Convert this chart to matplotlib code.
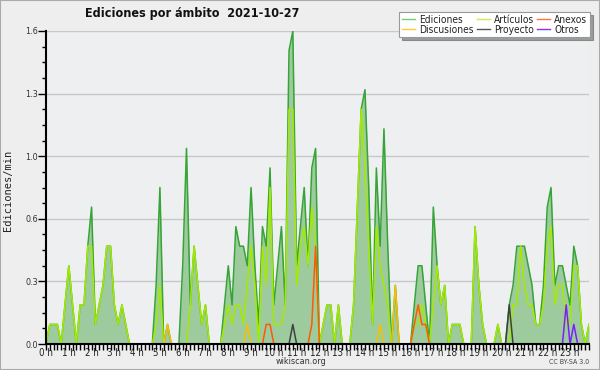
import numpy as np
import matplotlib
matplotlib.use("Agg")
import matplotlib.pyplot as plt
from matplotlib.lines import Line2D

# ---- data (edits per minute, 10-minute bins, 144 bins) ----
ediciones = [
    0, 0.1, 0.1, 0.1, 0, 0.2, 0.4, 0.2, 0, 0.2, 0.2, 0.5, 0.7, 0.1, 0.2, 0.3, 0.5, 0.5, 0.2, 0.1,
    0.2, 0.1, 0, 0, 0, 0, 0, 0, 0, 0.3, 0.8, 0, 0.1, 0, 0, 0, 0.4, 1.0, 0.2, 0.5,
    0.3, 0.1, 0.2, 0, 0, 0, 0, 0.2, 0.4, 0.2, 0.6, 0.5, 0.5, 0.4, 0.8, 0.4, 0.1, 0.6, 0.5, 0.9,
    0.2, 0.4, 0.6, 0.2, 1.5, 1.6, 0.4, 0.6, 0.8, 0.4, 0.9, 1.0, 0, 0.1, 0.2, 0.2, 0, 0.2, 0, 0,
    0, 0.2, 0.7, 1.2, 1.3, 0.8, 0.1, 0.9, 0.5, 1.1, 0.5, 0, 0.3, 0, 0, 0, 0, 0.2, 0.4, 0.4,
    0.2, 0, 0.7, 0.4, 0.2, 0.3, 0, 0.1, 0.1, 0.1, 0, 0, 0, 0.6, 0.3, 0.1, 0, 0, 0, 0.1,
    0, 0, 0.2, 0.3, 0.5, 0.5, 0.5, 0.4, 0.3, 0.1, 0.1, 0.3, 0.7, 0.8, 0.3, 0.4, 0.4, 0.3, 0.2, 0.5,
    0.4, 0.1, 0, 0.1,
]
articulos = [
    0, 0.1, 0.1, 0.1, 0, 0.2, 0.4, 0.2, 0, 0.2, 0.2, 0.5, 0.5, 0.1, 0.2, 0.3, 0.5, 0.5, 0.2, 0.1,
    0.2, 0.1, 0, 0, 0, 0, 0, 0, 0, 0.1, 0.3, 0, 0, 0, 0, 0, 0, 0, 0.2, 0.5,
    0.3, 0.1, 0.2, 0, 0, 0, 0, 0.1, 0.2, 0.1, 0.2, 0.2, 0.1, 0.3, 0.5, 0.3, 0, 0.5, 0.3, 0.8,
    0.1, 0.1, 0.1, 0.2, 1.2, 1.2, 0.3, 0.5, 0.6, 0.4, 0.7, 0.5, 0, 0.1, 0.2, 0.2, 0, 0.2, 0, 0,
    0, 0.2, 0.7, 1.2, 0.9, 0.5, 0.1, 0.6, 0.4, 0.3, 0.2, 0, 0, 0, 0, 0, 0, 0.1, 0.1, 0.2,
    0.1, 0, 0.2, 0.4, 0.2, 0.3, 0, 0.1, 0.1, 0.1, 0, 0, 0, 0.6, 0.3, 0.1, 0, 0, 0, 0.1,
    0, 0, 0, 0.2, 0.2, 0.5, 0.3, 0.2, 0.2, 0.1, 0.1, 0.2, 0.5, 0.6, 0.2, 0.3, 0.3, 0.1, 0.1, 0.4,
    0.4, 0.1, 0, 0.1,
]
discusiones = {32: 0.1, 53: 0.1, 88: 0.1, 92: 0.3}
anexos = {58: 0.1, 59: 0.1, 70: 0.1, 71: 0.5, 97: 0.1, 98: 0.2, 99: 0.1, 100: 0.1}
proyecto = {65: 0.1, 122: 0.2}
otros = {137: 0.2, 139: 0.1}

hour_labels = [f"{h} h" for h in range(24)]
y_ticks = [0, 0.32, 0.64, 0.96, 1.28, 1.6]

n = len(ediciones)


def expand(d):
    arr = np.zeros(n)
    for k, v in d.items():
        arr[k] = v
    return arr


x = np.arange(n) / 6.0
COND = dict(family="DejaVu Sans", stretch="condensed")

fig = plt.figure(figsize=(6, 3.7), dpi=100, facecolor="#eeeeee")
ax = fig.add_axes([46 / 600, 26 / 370, 543 / 600, 313 / 370])
ax.set_facecolor("#eeeff0")

for y in y_ticks[1:]:
    ax.axhline(y, color="#c8c8c8", lw=1.0, zorder=0)

ax.fill_between(x, 0, ediciones, color="#9ecb9e", lw=0, zorder=1)
ax.plot(x, ediciones, color="#36a436", lw=1.1, zorder=3)
ax.plot(x, articulos, color="#a4ea00", lw=1.1, zorder=4)
ax.plot(x, expand(discusiones), color="#f5c000", lw=1.1, zorder=5)
ax.plot(x, expand(anexos), color="#ff5a00", lw=1.1, zorder=5)
ax.plot(x, expand(proyecto), color="#404040", lw=1.1, zorder=5)
ax.plot(x, expand(otros), color="#7a1fff", lw=1.1, zorder=5)

ax.set_xlim(0, (n - 1) / 6.0)
ax.set_ylim(0, 1.6)

ax.set_xticks(range(24))
ax.set_xticklabels(hour_labels, **COND)
ax.set_xticks(np.arange(n) / 6.0, minor=True)
ax.set_yticks(y_ticks)
ax.set_yticklabels([f"{v:.1f}" for v in y_ticks], **COND)
ax.set_yticks(np.arange(0, 1.61, 0.08), minor=True)

ax.tick_params(axis="x", which="both", length=4, width=1, color="black",
               labelsize=7, labelcolor="#222222", pad=-1, direction="out")
ax.tick_params(axis="y", which="major", length=6, width=1, color="black",
               labelsize=6.5, labelcolor="#333333", pad=0)
ax.tick_params(axis="y", which="minor", length=3, width=1, color="black")

for s in ["top", "right"]:
    ax.spines[s].set_visible(False)
for s in ["left", "bottom"]:
    ax.spines[s].set_linewidth(1.5)
    ax.spines[s].set_zorder(10)

fig.text(85 / 600, 1 - 14 / 370, "Ediciones por ámbito  2021-10-27",
         fontsize=9, fontweight="bold", ha="left", va="center", color="#111111",
         **COND)
fig.text(8 / 600, 1 - 190 / 370, "Ediciones/min", rotation=90, fontsize=7.5,
         family="DejaVu Sans Mono", ha="center", va="center", color="#222222")
fig.text(301 / 600, 1 - 362 / 370, "wikiscan.org", fontsize=6.5, ha="center",
         va="center", color="#333333", **COND)
fig.text(589 / 600, 1 - 362 / 370, "CC BY-SA 3.0", fontsize=5, ha="right",
         va="center", color="#444444", **COND)

handles = [
    Line2D([], [], color="#77cc77", lw=1),
    Line2D([], [], color="#ffcc33", lw=1),
    Line2D([], [], color="#ccee44", lw=1),
    Line2D([], [], color="#555555", lw=1),
    Line2D([], [], color="#ff7733", lw=1),
    Line2D([], [], color="#8833ee", lw=1),
]
labels = ["Ediciones", "Discusiones", "Artículos", "Proyecto", "Anexos", "Otros"]
leg = fig.legend(handles, labels, ncol=3, loc="upper right",
                 bbox_to_anchor=(590 / 600, 1 - 12 / 370),
                 prop=dict(size=7.3, **COND),
                 frameon=True, fancybox=False, shadow=True, handlelength=1.3,
                 handletextpad=0.4, columnspacing=0.3, labelspacing=0.0,
                 borderpad=0.25, borderaxespad=0)
leg.get_frame().set_edgecolor("#999999")
leg.get_frame().set_linewidth(0.8)
for t in leg.get_texts():
    t.set_color("#222222")

# figure border
fig.patches.append(plt.Rectangle((0, 0), 1, 1, transform=fig.transFigure,
                                 fill=False, edgecolor="#aaaaaa", lw=1.5))

fig.savefig("out.png", dpi=100, facecolor=fig.get_facecolor())
